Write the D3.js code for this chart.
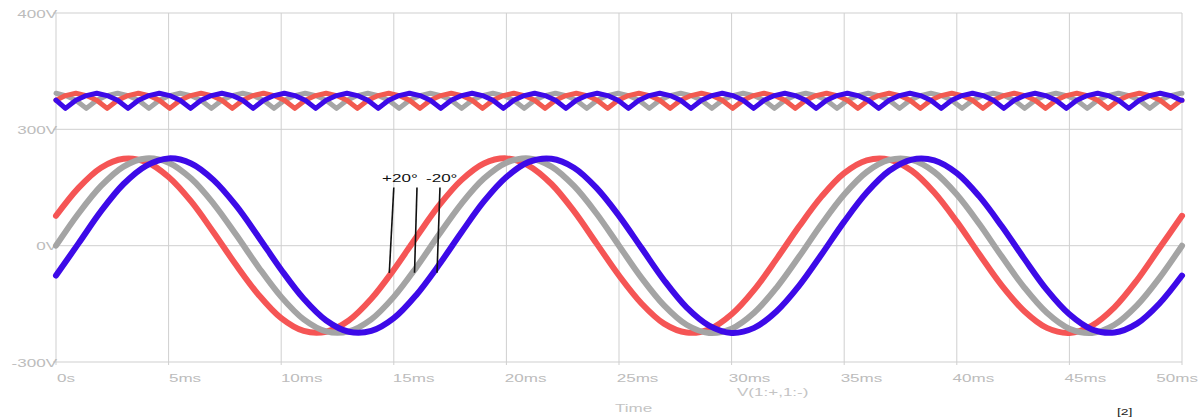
<!DOCTYPE html>
<html><head><meta charset="utf-8">
<script src="https://cdn.jsdelivr.net/npm/d3@7"></script>
<style>body{margin:0;background:#fff}svg{display:block}</style>
</head><body><svg id="c" width="1204" height="417"></svg>
<script>
// ---- data ----
const timeMs = [0,1,2,3,4,5,6,7,8,9,10,11,12,13,14,15,16,17,18,19,20,21,22,23,24,25,26,27,28,29,30,31,32,33,34,35,36,37,38,39,40,41,42,43,44,45,46,47,48,49,50];
const sineRed  = [77,149,201,224,216,177,114,34,-50,-127,-187,-220,-222,-193,-137,-62,22,103,169,212,225,206,159,89,6,-77,-149,-201,-224,-216,-177,-114,-34,50,127,187,220,222,193,137,62,-22,-103,-169,-212,-225,-206,-159,-89,-6,77];
const sineGray = [0,83,154,204,225,214,173,108,28,-56,-132,-190,-221,-221,-190,-132,-56,28,108,173,214,225,204,154,83,0,-83,-154,-204,-225,-214,-173,-108,-28,56,132,190,221,221,190,132,56,-28,-108,-173,-214,-225,-204,-154,-83,0];
const sineBlue = [-77,6,89,159,206,225,212,169,103,22,-62,-137,-193,-222,-220,-187,-127,-50,34,114,177,216,224,201,149,77,-6,-89,-159,-206,-225,-212,-169,-103,-22,62,137,193,222,220,187,127,50,-34,-114,-177,-216,-224,-201,-149,-77];

// ripple traces: first at 0 ms, then every 0.463 ms starting 0.42 ms, last at 50 ms
const rippleStartMs = 0.42, rippleStepMs = 0.46296, rippleCount = 108;
const rippleBlue = [325,
 318,325,329,331,329,325, 318,325,329,331,329,325, 318,325,329,331,329,325,
 318,325,329,331,329,325, 318,325,329,331,329,325, 318,325,329,331,329,325,
 318,325,329,331,329,325, 318,325,329,331,329,325, 318,325,329,331,329,325,
 318,325,329,331,329,325, 318,325,329,331,329,325, 318,325,329,331,329,325,
 318,325,329,331,329,325, 318,325,329,331,329,325, 318,325,329,331,329,325,
 318,325,329,331,329,325, 318,325,329,331,329,325, 318,325,329,331,329,325,
 325];
const rippleGray = [331, 329,325,
 318,325,329,331,329,325, 318,325,329,331,329,325, 318,325,329,331,329,325,
 318,325,329,331,329,325, 318,325,329,331,329,325, 318,325,329,331,329,325,
 318,325,329,331,329,325, 318,325,329,331,329,325, 318,325,329,331,329,325,
 318,325,329,331,329,325, 318,325,329,331,329,325, 318,325,329,331,329,325,
 318,325,329,331,329,325, 318,325,329,331,329,325, 318,325,329,331,329,325,
 318,325,329,331,329,325, 318,325,329,331,329,325,
 318,325,329,331, 331];
const rippleRed = [325, 329,331,329,325,
 318,325,329,331,329,325, 318,325,329,331,329,325, 318,325,329,331,329,325,
 318,325,329,331,329,325, 318,325,329,331,329,325, 318,325,329,331,329,325,
 318,325,329,331,329,325, 318,325,329,331,329,325, 318,325,329,331,329,325,
 318,325,329,331,329,325, 318,325,329,331,329,325, 318,325,329,331,329,325,
 318,325,329,331,329,325, 318,325,329,331,329,325, 318,325,329,331,329,325,
 318,325,329,331,329,325, 318,325,329,331,329,325,
 318,325, 325];

const xTicks = [0,5,10,15,20,25,30,35,40,45,50];
const xTickLabels = ["0s","5ms","10ms","15ms","20ms","25ms","30ms","35ms","40ms","45ms","50ms"];
const yTicks = [400,300,0,-300];
const yTickLabels = ["400V","300V","0V","-300V"];
const xTitle = "Time";
const legendText = "V(1:+,1:-)";
const annoLabels = ["+20°","-20°"];
const annoLabelT = [14.48,16.43];
const annoLabelV = 174;
const annoLineTop = [15.0,16.03,17.05];
const annoLineBottom = [14.8,15.92,16.92];
const annoLineV = [150,-70];
const refMark = "[2]";

// ---- drawing ----
const svg = d3.select("#c");
const x = d3.scaleLinear().domain([0,50]).range([56,1182]);
const y = d3.scaleLinear().domain([-300,0,300,400]).range([362,245.7,129.3,13]);
const SX = 1.55;
const txtColor = "#bcbcbc", gridColor = "#cfcfcf";
const font = "'Liberation Sans', Arial, sans-serif";

function label(g, str, px, py, anchor, color, size){
  return g.append("text").text(str)
    .attr("transform",`translate(${px},${py}) scale(${SX},1)`)
    .attr("text-anchor",anchor).attr("font-family",font).attr("font-size",size||11)
    .attr("fill",color);
}

// grid
const grid = svg.append("g");
grid.selectAll("line.v").data(xTicks).join("line")
  .attr("x1",d=>x(d)).attr("x2",d=>x(d)).attr("y1",y(400)).attr("y2",y(-300)+3)
  .attr("stroke",gridColor).attr("stroke-width",1);
grid.selectAll("line.h").data(yTicks).join("line")
  .attr("x1",x(0)-3).attr("x2",x(50)).attr("y1",d=>y(d)).attr("y2",d=>y(d))
  .attr("stroke",gridColor).attr("stroke-width",1);

// tick labels
const tl = svg.append("g");
xTicks.forEach((d,i)=>{
  if(i===xTicks.length-1) label(tl, xTickLabels[i], 1198, 382, "end", txtColor);
  else label(tl, xTickLabels[i], x(d)+1-0.65*i, 382, "start", txtColor);
});
yTicks.forEach((d,i)=>{ label(tl, yTickLabels[i], 57, y(d)+4.5, "end", txtColor); });
label(tl, xTitle, 615, 412, "start", "#c4c4c4");
label(tl, legendText, 737, 396, "start", "#c4c4c4");

// ripple traces
const rippleT = [0].concat(d3.range(rippleCount).map(j=>rippleStartMs+j*rippleStepMs)).concat([50]);
const rLine = d3.line().x((d,i)=>x(rippleT[i])).y(d=>y(d)).curve(d3.curveLinear);
const plot = svg.append("g").attr("fill","none").attr("stroke-linejoin","round").attr("stroke-linecap","round");
[["#a6a6a6",rippleGray],["#f25a50",rippleRed],["#3d0ae8",rippleBlue]].forEach(([c,arr])=>{
  plot.append("path").attr("d",rLine(arr)).attr("stroke",c).attr("stroke-width",5);
});

// sine traces
const sLine = d3.line().x((d,i)=>x(timeMs[i])).y(d=>y(d)).curve(d3.curveCatmullRom);
[["#f55555",sineRed],["#a4a4a4",sineGray],["#3d0ae8",sineBlue]].forEach(([c,arr])=>{
  plot.append("path").attr("d",sLine(arr)).attr("stroke",c).attr("stroke-width",6);
});

// annotation
const an = svg.append("g");
annoLineTop.forEach((t,i)=>{
  an.append("line").attr("x1",x(t)).attr("y1",y(annoLineV[0]))
    .attr("x2",x(annoLineBottom[i])).attr("y2",y(annoLineV[1]))
    .attr("stroke","#111").attr("stroke-width",1.6);
});
annoLabels.forEach((s,i)=>label(an, s, x(annoLabelT[i]), y(annoLabelV)+4, "start", "#111"));

label(svg, refMark, 1117, 415, "start", "#222", 9);
</script></body></html>
